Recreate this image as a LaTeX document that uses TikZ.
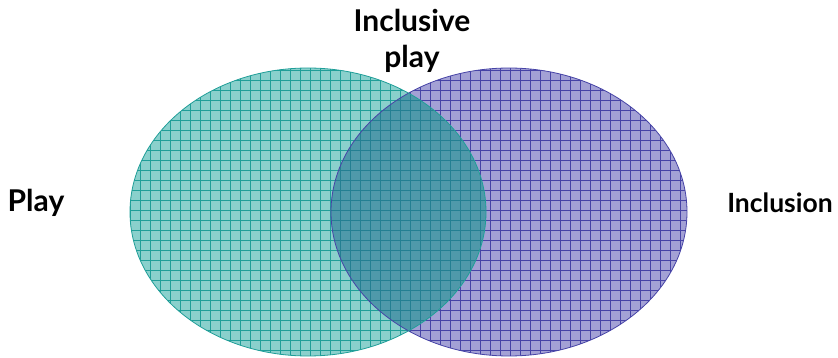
\documentclass[tikz,border=0pt]{standalone}
\usepackage{fontspec}
\setmainfont{Lato}
\definecolor{tealfill}{HTML}{8AD0CC}
\definecolor{tealline}{HTML}{1F9E98}
\definecolor{purpfill}{HTML}{A3A1D5}
\definecolor{purpline}{HTML}{4643A6}
\definecolor{midfill}{HTML}{4F99AA}
\definecolor{midline}{HTML}{237F92}
\begin{document}
\begin{tikzpicture}[x=1pt,y=-1pt,
  lbl/.style={font=\bfseries\fontsize{30}{36}\selectfont, align=center, inner sep=0pt},
  gridlines/.style={line width=0.7pt}]
\useasboundingbox (0,0) rectangle (838,358);
% right ellipse
\fill[purpfill] (509,212) ellipse [x radius=178, y radius=144];
\begin{scope}
  \clip (509,212) ellipse [x radius=178, y radius=144];
  \foreach \i in {330,340,...,690} \draw[purpline, gridlines] (\i,60) -- (\i,360);
  \foreach \j in {60,70,...,360} \draw[purpline, gridlines] (320,\j) -- (700,\j);
\end{scope}
% left ellipse
\fill[tealfill] (308,212) ellipse [x radius=178, y radius=144];
\begin{scope}
  \clip (308,212) ellipse [x radius=178, y radius=144];
  \foreach \i in {130,140,...,490} \draw[tealline, gridlines] (\i,60) -- (\i,360);
  \foreach \j in {60,70,...,360} \draw[tealline, gridlines] (120,\j) -- (500,\j);
\end{scope}
% overlap
\begin{scope}
  \clip (308,212) ellipse [x radius=178, y radius=144];
  \clip (509,212) ellipse [x radius=178, y radius=144];
  \fill[midfill] (300,60) rectangle (500,360);
  \foreach \i in {330,340,...,490} \draw[midline, gridlines] (\i,60) -- (\i,360);
  \foreach \j in {60,70,...,360} \draw[midline, gridlines] (320,\j) -- (500,\j);
\end{scope}
\draw[purpline, line width=0.8pt] (509,212) ellipse [x radius=178, y radius=144];
\draw[tealline, line width=0.8pt] (308,212) ellipse [x radius=178, y radius=144];
\node[lbl] (inc) at (412,41) {Inclusive\\play};
\node[lbl] (play) at (36,203) {Play};
\node[lbl, font=\bfseries\fontsize{26.5}{32}\selectfont] (incl) at (780,203) {Inclusion};
\end{tikzpicture}
\end{document}
